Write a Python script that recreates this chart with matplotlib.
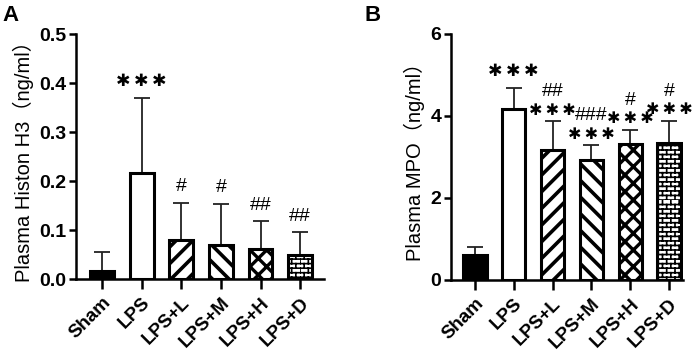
import numpy as np
import matplotlib
matplotlib.use("Agg")
import matplotlib.pyplot as plt
import matplotlib.hatch as mhatch
from matplotlib.path import Path

# ---------------- data ----------------
groups = ["Sham", "LPS", "LPS+L", "LPS+M", "LPS+H", "LPS+D"]

histone_mean = [0.016, 0.217, 0.079, 0.070, 0.061, 0.050]
histone_sd = [0.039, 0.152, 0.077, 0.084, 0.057, 0.046]
histone_star = ["", "***", "", "", "", ""]
histone_hash = ["", "", "#", "#", "##", "##"]

mpo_mean = [0.60, 4.18, 3.16, 2.93, 3.32, 3.35]
mpo_sd = [0.21, 0.50, 0.71, 0.35, 0.34, 0.53]
mpo_star = ["", "***", "***", "***", "***", "***"]
mpo_hash = ["", "", "##", "###", "#", "#"]

# ---------------- custom brick hatch ----------------
class BrickHatch(mhatch.HatchPatternBase):
    def __init__(self, hatch, density):
        n = hatch.count('b')
        self.rows = 22 if n else 0
        self.cols = 12
        self.num_vertices = (2 * self.rows + 2 * self.rows * self.cols) if n else 0

    def set_vertices_and_codes(self, vertices, codes):
        R, C = self.rows, self.cols
        h = 1.0 / R
        k = 0
        for i in range(R):
            y = i * h
            vertices[k] = (0.0, y); codes[k] = Path.MOVETO; k += 1
            vertices[k] = (1.0, y); codes[k] = Path.LINETO; k += 1
        for i in range(R):
            y0 = i * h
            off = 0.5 * (i % 2)
            for j in range(C):
                x = (j + off) / C
                vertices[k] = (x, y0); codes[k] = Path.MOVETO; k += 1
                vertices[k] = (x, y0 + h); codes[k] = Path.LINETO; k += 1

mhatch._hatch_types.append(BrickHatch)

import warnings
warnings.filterwarnings("ignore")

plt.rcParams['font.family'] = ['Liberation Sans', 'Noto Sans CJK SC', 'DejaVu Sans']
plt.rcParams['hatch.color'] = 'black'

face = ['black', 'white', 'white', 'white', 'white', 'white']
hatches = [None, None, '//', '\\\\', 'xx', 'b']
hatch_lw = [1, 1, 2.6, 2.6, 2.4, 1.2]

STAR = "\u2731"

fig = plt.figure(figsize=(6.99, 3.53), dpi=100)
axA = fig.add_axes([0.1087, 0.2096, 0.3548, 0.694])
axB = fig.add_axes([0.645, 0.2068, 0.332, 0.697])


def star_text(s):
    return "\u2009".join(STAR for _ in s)


def draw_panel(ax, means, sds, stars, hashes, ylim, yticks, yticklabels, ylabel, xlim):
    x = np.arange(len(groups))
    for i in range(len(groups)):
        if 'hatch.linewidth' in plt.rcParams:
            plt.rcParams['hatch.linewidth'] = hatch_lw[i]
        b = ax.bar(x[i], means[i], width=0.6, color=face[i], edgecolor='black',
                   linewidth=2.2, hatch=hatches[i], zorder=3)
        for p in b.patches:
            if hasattr(p, 'set_hatch_linewidth'):
                p.set_hatch_linewidth(hatch_lw[i])
    ax.errorbar(x, means, yerr=[np.zeros(len(x)), sds], fmt='none', ecolor='#222222',
                elinewidth=1.3, capsize=6, capthick=1.3, zorder=2)
    for i in range(len(groups)):
        top = means[i] + sds[i]
        s, h = stars[i], hashes[i]
        if s and h:
            ax.annotate(star_text(s), (x[i], top), xytext=(0, 8), textcoords='offset points',
                        ha='center', va='center', fontsize=11.5,
                        family=['DejaVu Sans'])
            ax.annotate(h, (x[i], top), xytext=(0, 21.5), textcoords='offset points',
                        ha='center', va='center', fontsize=14)
        elif s:
            ax.annotate(star_text(s), (x[i], top), xytext=(0, 12.5), textcoords='offset points',
                        ha='center', va='center', fontsize=12.5,
                        family=['DejaVu Sans'])
        elif h:
            ax.annotate(h, (x[i], top), xytext=(0, 11.5), textcoords='offset points',
                        ha='center', va='center', fontsize=14)
    ax.set_xlim(*xlim)
    ax.set_ylim(*ylim)
    ax.set_yticks(yticks)
    ax.set_yticklabels(yticklabels, fontsize=14, fontweight='bold')
    ax.set_xticks(x)
    ax.set_xticklabels(groups, rotation=45, ha='right', rotation_mode='anchor',
                       fontsize=13.5, fontweight='bold')
    ax.set_ylabel(ylabel, fontsize=14.5, labelpad=4)
    for side in ['top', 'right']:
        ax.spines[side].set_visible(False)
    for side in ['left', 'bottom']:
        ax.spines[side].set_linewidth(1.8)
    ax.tick_params(axis='y', length=5, width=1.8, pad=2)
    ax.tick_params(axis='x', length=7, width=1.8, pad=4)


draw_panel(axA, histone_mean, histone_sd, histone_star, histone_hash,
           (0, 0.5), [0, 0.1, 0.2, 0.3, 0.4, 0.5],
           ["0.0", "0.1", "0.2", "0.3", "0.4", "0.5"],
           "Plasma Histon H3（ng/ml）", (-0.66, 5.6))
draw_panel(axB, mpo_mean, mpo_sd, mpo_star, mpo_hash,
           (0, 6), [0, 2, 4, 6], ["0", "2", "4", "6"],
           "Plasma MPO（ng/ml）", (-0.62, 5.36))

fig.text(0.004, 0.985, "A", fontsize=16, fontweight='bold', va='top', ha='left')
fig.text(0.522, 0.985, "B", fontsize=16, fontweight='bold', va='top', ha='left')

fig.savefig("out.png", dpi=100)
